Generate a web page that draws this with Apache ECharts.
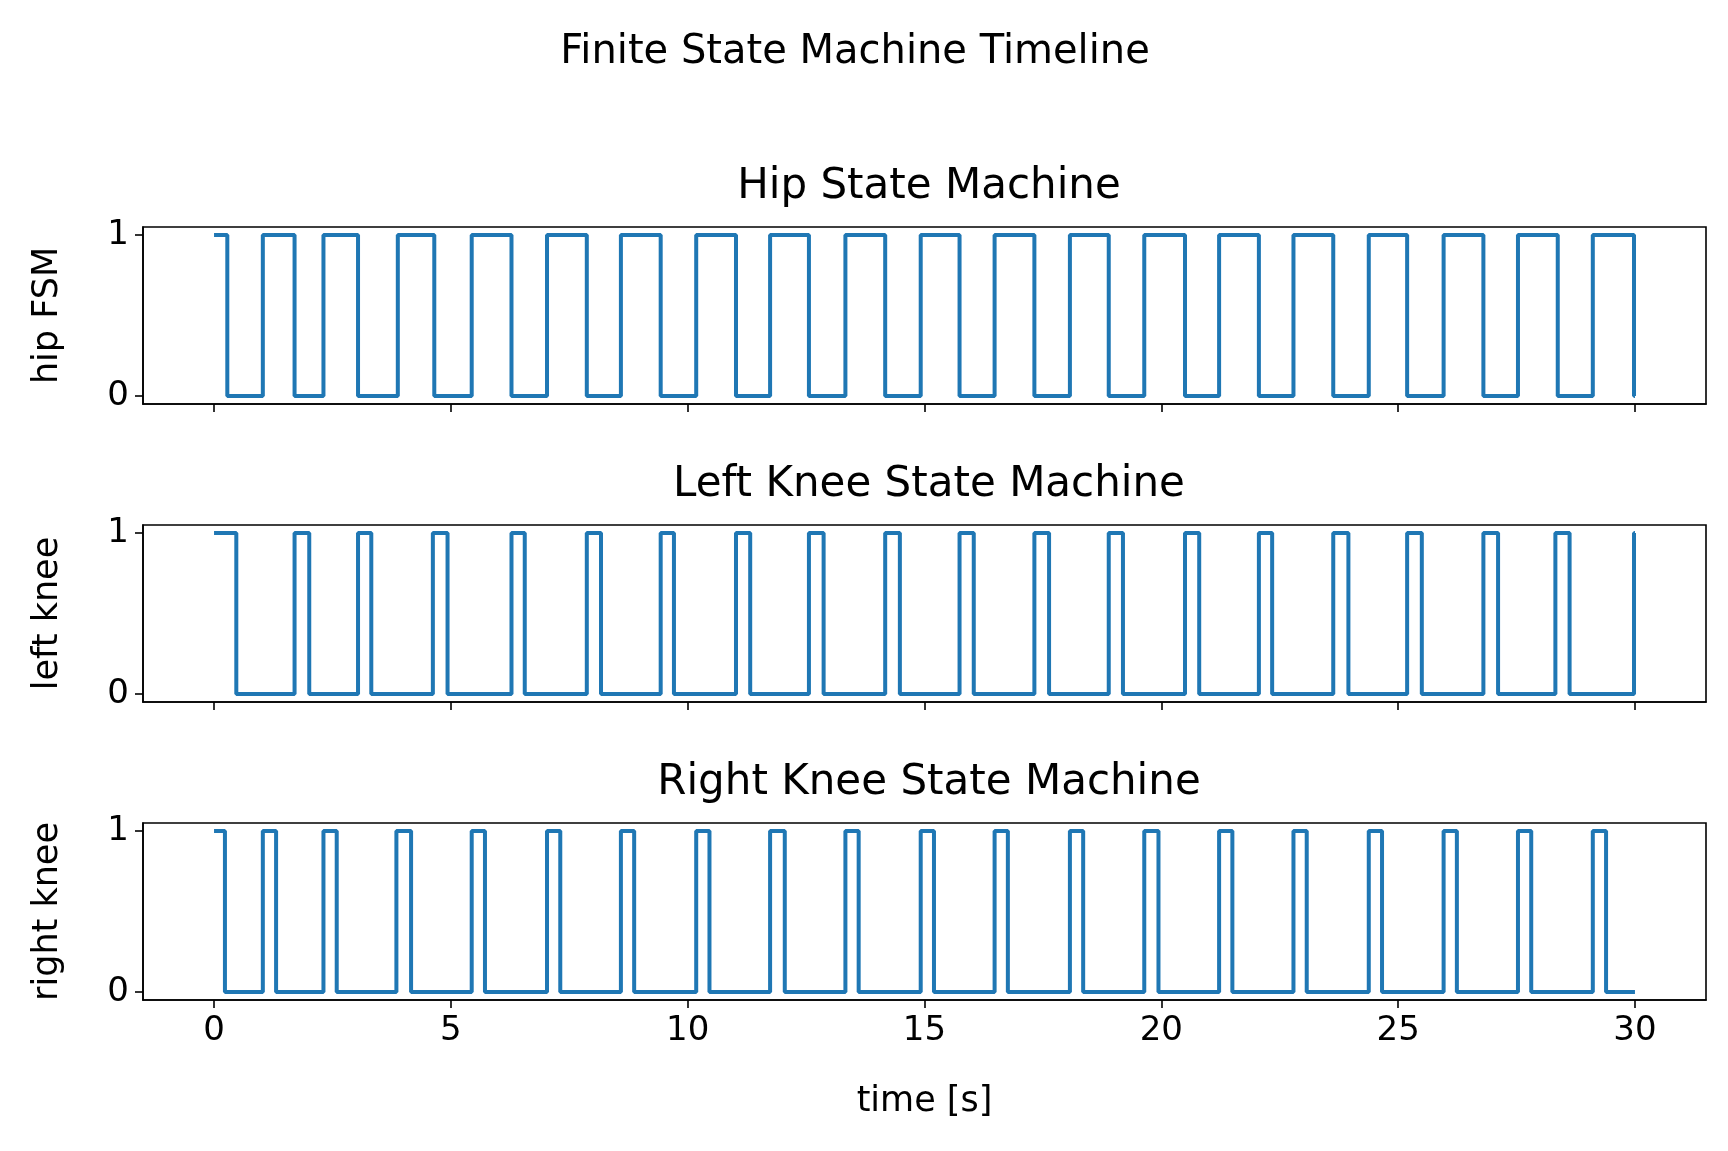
<!DOCTYPE html>
<html lang="en">
<head>
<meta charset="UTF-8">
<title>Finite State Machine Timeline</title>
<style>
  * { margin: 0; padding: 0; }
  #chart { width: 1728px; height: 1151px; background: #fff; }
</style>
</head>
<body>
<div id="chart"></div>
<script src="https://cdn.jsdelivr.net/npm/echarts@6/dist/echarts.min.js"></script>
<script>
  // transition times [s]; each state starts at 1 and toggles at every time listed
  var hipSwitch = [0.28, 1.03, 1.70, 2.31, 3.04, 3.88, 4.65, 5.44, 6.28, 7.03, 7.87, 8.59, 9.43, 10.18,
    11.02, 11.74, 12.56, 13.33, 14.17, 14.92, 15.74, 16.48, 17.32, 18.07, 18.89, 19.64, 20.50, 21.22,
    22.06, 22.79, 23.63, 24.38, 25.19, 25.96, 26.80, 27.53, 28.37, 29.11, 29.98];
  var leftSwitch = [0.47, 1.70, 2.01, 3.04, 3.32, 4.62, 4.93, 6.28, 6.56, 7.87, 8.17, 9.43, 9.71, 11.02,
    11.32, 12.56, 12.87, 14.17, 14.48, 15.74, 16.04, 17.32, 17.63, 18.89, 19.19, 20.50, 20.80, 22.06,
    22.34, 23.63, 23.95, 25.19, 25.50, 26.80, 27.11, 28.32, 28.62, 29.98];
  var rightSwitch = [0.23, 1.03, 1.31, 2.31, 2.59, 3.85, 4.16, 5.44, 5.72, 7.03, 7.31, 8.59, 8.87, 10.18,
    10.46, 11.74, 12.05, 13.33, 13.61, 14.92, 15.20, 16.48, 16.76, 18.07, 18.35, 19.64, 19.94, 21.22,
    21.50, 22.79, 23.07, 24.38, 24.66, 25.96, 26.24, 27.53, 27.81, 29.11, 29.39];
  var endTime = 30;
  var xTicks = [0, 5, 10, 15, 20, 25, 30];
  var yTicks = [0, 1];
  var titles = ['Hip State Machine', 'Left Knee State Machine', 'Right Knee State Machine'];
  var yNames = ['hip FSM', 'left knee', 'right knee'];

  function toSteps(switches) {
    var v = 1, pts = [[0, v]];
    switches.forEach(function (t) { v = 1 - v; pts.push([t, v]); });
    pts.push([endTime, v]);
    return pts;
  }
  var all = [hipSwitch, leftSwitch, rightSwitch].map(toSteps);

  var font = 'DejaVu Sans';
  var tops = [227, 525, 823], h = 177;
  var chart = echarts.init(document.getElementById('chart'));
  var grids = [], xAxes = [], yAxes = [], series = [], tls = [];
  tls.push({ text: 'Finite State Machine Timeline', left: 850, textAlign: 'center', top: 28,
    textStyle: { fontFamily: font, fontSize: 40, fontWeight: 'normal', color: '#000' } });
  var axLine = { show: true, onZero: false, lineStyle: { color: '#000', width: 1.6 } };
  for (var i = 0; i < 3; i++) {
    grids.push({ left: 143, right: 22, top: tops[i], height: h, show: true,
      borderColor: '#000', borderWidth: 1.6, backgroundColor: 'transparent' });
    tls.push({ text: titles[i], left: 924, textAlign: 'center', top: tops[i] - 66,
      textStyle: { fontFamily: font, fontSize: 42, fontWeight: 'normal', color: '#000' } });
    xAxes.push({ type: 'value', gridIndex: i, min: -1.5, max: 31.5,
      name: i === 2 ? 'time [s]' : '', nameLocation: 'middle', nameGap: 84,
      nameTextStyle: { fontFamily: font, fontSize: 35, color: '#000' },
      axisLine: axLine, splitLine: { show: false },
      axisTick: { show: true, inside: false, customValues: xTicks, length: 8, lineStyle: { color: '#000', width: 1.6 } },
      axisLabel: { show: i === 2, customValues: xTicks, margin: 14,
        fontFamily: font, fontSize: 34, color: '#000' } });
    yAxes.push({ type: 'value', gridIndex: i, min: -0.05, max: 1.05,
      name: yNames[i], nameLocation: 'middle', nameGap: 78, nameRotate: 90,
      nameTextStyle: { fontFamily: font, fontSize: 35, color: '#000' },
      axisLine: axLine, splitLine: { show: false },
      axisTick: { show: true, inside: false, customValues: yTicks, length: 8, lineStyle: { color: '#000', width: 1.6 } },
      axisLabel: { customValues: yTicks, margin: 14, fontFamily: font, fontSize: 34, color: '#000' } });
    series.push({ type: 'line', xAxisIndex: i, yAxisIndex: i, data: all[i], step: 'end',
      showSymbol: false, symbol: 'none', lineStyle: { color: '#1f77b4', width: 4 }, animation: false });
  }
  chart.setOption({ animation: false, title: tls, grid: grids, xAxis: xAxes, yAxis: yAxes, series: series });
  window.addEventListener('resize', chart.resize);
</script>
</body>
</html>
